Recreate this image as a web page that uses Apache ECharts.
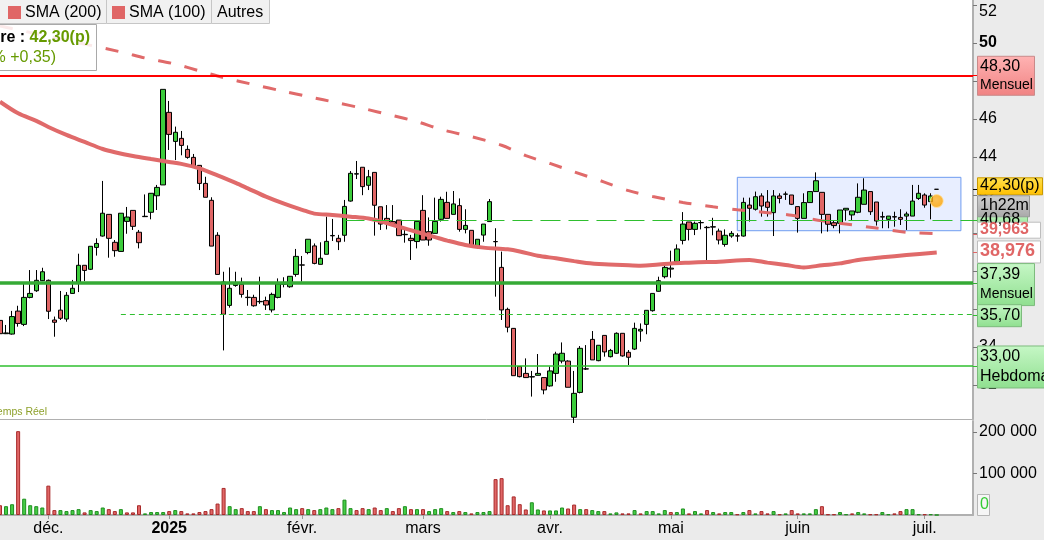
<!DOCTYPE html>
<html><head><meta charset="utf-8">
<script src="https://cdn.jsdelivr.net/npm/echarts@6/dist/echarts.min.js"></script>
<style>
html,body{margin:0;padding:0;background:#fff;overflow:hidden}
#wrap{position:relative;width:1044px;height:540px;font-family:"Liberation Sans",Arial,sans-serif}
#bgR{position:absolute;left:973px;top:0;width:71px;height:540px;background:#ebebeb}
#bgB{position:absolute;left:0;top:516px;width:973px;height:24px;background:#ebebeb}
#c{position:absolute;left:0;top:0;width:1044px;height:540px}
</style>
</head><body><div id="wrap"><div id="bgR"></div><div id="bgB"></div><div id="c"></div></div>
<script>
// ---------- DATA ----------
const tradingDays = {
  '2024-11': [20,21,22,25,26,27,28,29],
  '2024-12': [2,3,4,5,6,9,10,11,12,13,16,17,18,19,20,23,24,27,30,31],
  '2025-01': [2,3,6,7,8,9,10,13,14,15,16,17,20,21,22,23,24,27,28,29,30,31],
  '2025-02': [3,4,5,6,7,10,11,12,13,14,17,18,19,20,21,24,25,26,27,28],
  '2025-03': [3,4,5,6,7,10,11,12,13,14,17,18,19,20,21,24,25,26,27,28,31],
  '2025-04': [1,2,3,4,7,8,9,10,11,14,15,16,17,22,23,24,25,28,29,30],
  '2025-05': [2,5,6,7,8,9,12,13,14,15,16,19,20,21,22,23,26,27,28,29,30],
  '2025-06': [2,3,4,5,6,9,10,11,12,13,16,17,18,19,20,23,24,25,26,27,30],
  '2025-07': [1,2,3]
};
const monthLabels = {'2024-12':'déc.','2025-01':'2025','2025-02':'févr.','2025-03':'mars','2025-04':'avr.','2025-05':'mai','2025-06':'juin','2025-07':'juil.'};
const padSlots = 6;

// [open, close, low, high]
const candles = [
[35.40,34.70,34.72,35.68],[34.70,34.74,34.68,35.16],[34.68,35.60,34.65,35.90],[35.89,35.24,35.07,36.17],[35.19,36.61,35.10,37.35],
[36.61,36.82,36.56,38.05],[36.96,37.51,36.90,38.05],[37.49,37.96,37.47,38.17],[37.51,35.88,35.47,37.55],[35.42,35.30,34.54,35.60],
[35.94,35.51,35.42,36.95],[35.47,36.72,35.33,36.89],[36.82,37.09,36.80,37.53],[37.40,38.30,36.89,38.91],[38.30,38.03,37.47,38.30],
[38.09,39.30,38.05,39.30],[39.24,39.45,38.81,39.72],[39.84,41.04,39.81,42.74],[40.98,39.72,38.70,40.98],[39.51,39.07,38.75,39.63],
[39.03,41.04,39.03,41.04],[40.61,40.84,39.96,41.37],[41.19,40.35,40.16,41.19],[40.04,39.49,39.19,40.16],[40.86,40.88,40.84,42.03],
[41.09,42.09,40.72,42.10],[41.96,42.40,41.21,42.53],[42.53,47.56,42.53,47.56],[46.35,45.19,44.37,46.95],[44.82,45.30,43.84,45.60],
[44.98,44.61,44.09,45.37],[44.40,43.98,43.91,44.61],[43.98,43.45,43.45,44.16],[43.56,42.61,42.26,43.56],[42.61,41.88,41.88,42.96],
[41.72,39.31,39.31,41.88],[39.88,37.82,37.82,40.04],[37.42,35.72,33.82,37.96],[36.19,37.09,36.07,38.19],[37.24,37.33,37.17,37.96],
[37.30,36.77,36.60,37.65],[36.60,36.62,36.17,37.00],[36.61,36.17,36.12,36.75],[36.38,36.40,36.27,37.70],[36.44,36.21,35.95,36.65],
[35.95,36.77,35.82,36.86],[36.61,37.32,36.56,37.61],[37.30,37.35,37.14,37.67],[37.17,37.72,37.12,37.72],[37.82,38.77,37.70,39.16],
[38.31,38.32,37.44,38.79],[38.97,39.67,38.88,39.67],[39.32,38.40,38.35,39.45],[38.35,38.67,38.35,39.51],[38.88,39.56,38.88,40.86],
[39.85,39.87,39.58,40.74],[39.72,39.54,39.10,39.90],[39.88,41.40,39.54,41.74],[41.68,43.14,41.65,43.26],[43.10,43.12,42.84,43.79],
[43.46,42.44,41.99,43.46],[42.51,42.96,42.26,43.32],[43.19,41.46,39.86,43.19],[41.38,40.47,40.16,41.38],[40.77,40.51,40.19,41.47],
[40.60,40.50,40.50,41.47],[40.68,39.86,39.86,40.68],[39.93,39.91,39.49,40.16],[39.72,39.60,38.58,39.90],[39.55,40.61,39.19,40.61],
[41.19,39.63,39.63,41.99],[40.07,39.63,39.33,40.82],[39.98,40.61,39.98,41.86],[40.72,41.77,40.60,41.91],[41.61,40.77,40.77,42.17],
[40.98,41.53,40.98,42.21],[41.44,40.19,40.07,41.82],[40.19,40.40,39.98,41.25],[40.14,39.32,39.28,40.14],[39.23,39.67,39.19,39.67],
[39.89,40.47,39.54,40.47],[40.60,41.65,40.60,41.79],[39.55,39.54,36.65,40.25],[38.19,35.95,35.42,39.02],[35.98,35.04,34.77,36.07],
[34.98,32.49,32.49,35.00],[32.97,32.44,32.40,33.00],[32.61,32.39,32.39,33.40],[32.42,32.44,31.39,32.74],[32.51,32.61,32.50,33.63],
[32.39,31.74,31.51,32.40],[31.95,32.74,31.91,32.97],[32.61,33.63,32.17,33.75],[33.26,33.67,33.14,34.24],[33.26,31.88,31.88,33.30],
[30.30,31.56,30.00,32.74],[31.61,33.93,31.56,34.05],[32.85,32.84,32.79,34.10],[34.40,33.32,33.32,34.84],[33.28,34.09,33.25,34.09],
[34.61,33.74,33.49,34.61],[33.49,33.82,33.45,33.90],[33.67,34.72,33.63,34.77],[34.72,33.53,33.49,34.72],[33.72,33.46,33.05,33.84],
[33.89,34.98,33.84,35.28],[34.84,34.93,34.28,35.24],[35.19,35.93,34.67,35.93],[35.91,36.82,35.86,36.82],[36.93,37.49,36.91,37.70],
[37.70,38.19,37.61,38.40],[38.10,38.15,37.65,39.07],[38.49,39.16,38.40,39.40],[39.61,40.47,39.40,41.10],[40.58,40.19,39.61,40.58],
[40.19,40.51,39.89,40.60],[40.54,40.55,40.19,40.68],[40.30,40.28,38.53,40.37],[40.31,40.33,39.88,40.80],[40.10,39.63,39.40,40.23],
[39.40,39.88,39.28,40.19],[39.84,39.98,39.75,40.10],[39.85,39.84,39.54,39.98],[39.84,41.61,39.81,41.86],[41.47,41.30,40.60,41.86],
[41.25,41.91,41.18,42.18],[41.95,41.42,40.86,42.09],[41.63,41.35,40.86,42.26],[41.07,41.95,39.84,42.26],[41.95,41.82,41.56,42.09],
[42.04,42.05,41.74,42.18],[42.00,41.51,41.47,42.00],[41.39,40.77,40.02,41.39],[40.77,41.60,40.77,42.09],[41.60,42.18,41.60,42.18],
[42.18,42.75,42.18,43.19],[42.14,40.98,39.98,42.14],[40.98,40.46,40.07,40.98],[40.54,40.39,40.25,40.68],[40.51,41.21,39.98,41.21],
[41.21,41.30,40.65,41.30],[40.95,41.16,40.68,41.16],[41.09,41.88,41.04,42.61],[41.51,42.26,41.51,42.88],[42.18,41.12,40.95,42.18],
[41.63,40.63,40.39,41.63],[40.86,40.84,40.25,41.12],[40.72,40.89,40.25,40.89],[40.86,40.84,40.33,41.12],[40.82,40.72,40.42,41.25],
[40.89,41.00,40.16,41.12],[40.89,41.68,40.89,42.53],[41.82,42.09,41.74,42.53],[42.00,41.47,41.33,42.09],[41.65,41.95,40.72,42.09],
[42.30,42.30,42.30,42.30]
];

const volumes = [
23500,21200,25900,201600,39200,23500,21200,18000,70600,11800,
11800,9400,11800,14100,6300,11800,9400,18000,14100,9400,
14100,6300,6300,23500,3900,7100,7100,7100,9400,11800,
9400,3900,3900,7100,9400,14100,27500,65100,21200,14100,
16500,9400,9400,21200,14100,11800,11800,7100,18000,14100,
16500,14100,11800,14100,18000,14100,16500,36900,16500,11800,
16500,14100,18000,11800,16500,9400,16500,21200,14100,14100,
14100,9400,14100,16500,9400,7100,9400,7100,3900,7100,
7100,9400,86300,88600,23500,44700,26000,13300,30600,13300,
11000,11000,11000,18000,15700,25100,14100,14100,11800,9400,
9400,3900,6300,3900,3900,11800,3900,9400,9400,3900,
11800,7100,7100,15700,3900,9400,3900,11800,7100,3900,
7100,7100,1600,7100,11800,3900,9400,3900,9400,1600,
3900,11800,3900,3900,3900,14100,21200,1600,1600,7100,
1600,3900,7100,3900,1600,1600,7100,1600,3900,9400,
14100,14100,1600,1600,1600,0
];

// moving averages: [candle index, value]
const sma100 = [[0,46.91],[3,46.30],[6,45.90],[8,45.58],[11,45.16],[14,44.79],[17,44.42],[19,44.25],[22,44.05],[25,43.89],
[28,43.74],[30,43.64],[33,43.40],[36,43.03],[39,42.64],[41,42.35],[44,41.91],[47,41.54],[50,41.22],[52,41.02],[55,40.95],
[58,40.86],[61,40.76],[63,40.61],[66,40.33],[69,40.05],[72,39.78],[74,39.60],[77,39.37],[80,39.23],[84,39.14],[86,39.03],
[89,38.80],[92,38.67],[95,38.52],[97,38.42],[100,38.35],[103,38.32],[106,38.28],[108,38.31],[111,38.40],[114,38.44],
[117,38.47],[119,38.49],[124,38.58],[127,38.44],[130,38.32],[133,38.19],[136,38.30],[139,38.40],[142,38.58],[146,38.72],
[150,38.84],[155,38.976]];
const sma200 = [[0,50.90],[2,50.76],[20,49.53],[24,49.21],[29,48.89],[33,48.53],[37,48.18],[42,47.81],[47,47.45],[51,47.18],
[56,46.84],[60,46.56],[65,46.18],[69,45.86],[73,45.45],[78,45.07],[83,44.62],[87,44.07],[91,43.66],[95,43.22],[100,42.68],
[104,42.23],[108,41.92],[113,41.61],[118,41.38],[122,41.22],[127,41.07],[131,40.93],[136,40.64],[141,40.43],[145,40.26],
[150,40.04],[155,39.963]];

const levelMonthly = 48.30, levelSupport = 37.39, level3570 = 35.70, levelWeekly = 33.00, level4068 = 40.68;
const rangeBox = {from: 122, to: 159, low: 40.12, high: 42.93};
const alertPoint = [155, 41.68];
const lastPrice = 42.30;
const priceTicks = [32,34,36,38,40,42,44,46,48,50,52];
const volTicks = [100000, 200000];

// ---------- BUILD ----------
const dates = [];
Object.keys(tradingDays).forEach(m => tradingDays[m].forEach(d => dates.push(m + '-' + String(d).padStart(2,'0'))));
const cats = dates.concat(Array.from({length: padSlots}, (_, i) => 'pad' + i));
const monthStart = {};
dates.forEach((d, i) => { const m = d.slice(0,7); if (monthLabels[m] && (i === 0 || dates[i-1].slice(0,7) !== m)) monthStart[i] = monthLabels[m]; });

const GREEN = '#3ccc3c', RED = '#e06666';
const volData = volumes.map((v, i) => {
  const prev = i === 0 ? candles[0][0] : candles[i-1][1];
  const up = candles[i][1] >= prev;
  return {value: v, itemStyle: {color: up ? '#46cc46' : '#e06666', borderColor: up ? '#1f8f1f' : '#a82a2a', borderWidth: 1}};
});

const chart = echarts.init(document.getElementById('c'), null, {renderer: 'canvas'});
const FONT = '"Liberation Sans", Arial, sans-serif';

const option = {
  animation: false,
  backgroundColor: 'transparent',
  textStyle: {fontFamily: FONT},
  grid: [
    {left: 0, right: 71, top: 0, height: 419},
    {left: 0, right: 71, top: 421, height: 94}
  ],
  xAxis: [
    {type: 'category', gridIndex: 0, data: cats, boundaryGap: false,
     axisLine: {show: true, lineStyle: {color: '#b0b0b0'}}, axisTick: {show: false}, axisLabel: {show: false}, splitLine: {show: false}},
    {type: 'category', gridIndex: 1, data: cats, boundaryGap: false,
     axisLine: {show: true, lineStyle: {color: '#b0b0b0', width: 2}},
     axisTick: {show: true, length: 4, interval: (i) => monthStart[i] !== undefined, lineStyle: {color: '#999'}},
     axisLabel: {show: true, interval: (i) => monthStart[i] !== undefined, margin: 6, fontSize: 16, color: '#000', fontFamily: FONT,
       formatter: (v, i) => { const t = monthStart[i]; return t === '2025' ? '{b|2025}' : (t || ''); },
       rich: {b: {fontWeight: 'bold', fontSize: 16, color: '#000', fontFamily: FONT}}},
     splitLine: {show: false}}
  ],
  yAxis: [
    {type: 'value', gridIndex: 0, position: 'right', min: 30.21, max: 52.263, scale: true,
     axisLine: {show: true, lineStyle: {color: '#b0b0b0', width: 2}},
     axisTick: {show: true, length: 4, customValues: priceTicks, lineStyle: {color: '#777'}},
     axisLabel: {show: true, customValues: priceTicks, margin: 6, fontSize: 16, color: '#000', fontFamily: FONT,
       formatter: v => v === 52 ? '{t|52}' : (v === 50 ? '{b|50}' : String(v)),
       rich: {t: {padding: [14,0,0,0], fontSize: 16, color: '#000', fontFamily: FONT}, b: {fontWeight: 'bold', fontSize: 16, color: '#000', fontFamily: FONT}}},
     splitLine: {show: false}},
    {type: 'value', gridIndex: 1, position: 'right', min: 0, max: 226000,
     axisLine: {show: true, lineStyle: {color: '#b0b0b0', width: 2}},
     axisTick: {show: true, length: 4, customValues: volTicks, lineStyle: {color: '#777'}},
     axisLabel: {show: true, customValues: volTicks, margin: 6, fontSize: 16, color: '#000', fontFamily: FONT,
       formatter: v => String(v).replace(/\B(?=(\d{3})+(?!\d))/g, ' ')},
     splitLine: {show: false}}
  ],
  series: [
    {type: 'candlestick', name: 'cours', xAxisIndex: 0, yAxisIndex: 0, data: candles, barWidth: 5, z: 2,
     itemStyle: {color: GREEN, color0: RED, borderColor: '#000', borderColor0: '#000', borderColorDoji: '#000', borderWidth: 1},
     markArea: {silent: true, itemStyle: {color: 'rgba(205,218,255,0.45)', borderColor: '#6f9cf0', borderWidth: 1},
       data: [[{coord: [rangeBox.from, rangeBox.high]}, {coord: [rangeBox.to, rangeBox.low]}]]}
    },
    {type: 'line', name: 'SMA (200)', xAxisIndex: 0, yAxisIndex: 0, data: sma200, showSymbol: false, connectNulls: true, smooth: 0.3, z: 4, silent: true,
     lineStyle: {color: '#e06a6a', width: 3, type: [13, 14]}},
    {type: 'line', name: 'SMA (100)', xAxisIndex: 0, yAxisIndex: 0, data: sma100, showSymbol: false, connectNulls: true, smooth: 0.3, z: 4, silent: true,
     lineStyle: {color: '#e06a6a', width: 4}},
    {type: 'line', name: 'niveaux', xAxisIndex: 0, yAxisIndex: 0, data: [], z: 5, silent: true,
     markLine: {silent: true, symbol: ['none', 'none'], label: {show: false}, animation: false,
       data: [
         {yAxis: levelMonthly, lineStyle: {color: '#ff0000', width: 2, type: 'solid'}},
         {yAxis: levelSupport, lineStyle: {color: '#35aa35', width: 3.5, type: 'solid'}},
         [{coord: [20, level3570], lineStyle: {color: '#2fbf2f', width: 1, type: [5, 4]}}, {coord: [cats.length - 1, level3570]}],
         {yAxis: levelWeekly, lineStyle: {color: '#2fbf2f', width: 1.5, type: 'solid'}},
         [{coord: [57, level4068], lineStyle: {color: '#2fbf2f', width: 1.2, type: [20, 8]}}, {coord: [cats.length - 1, level4068]}]
       ]}},
    {type: 'scatter', name: 'alerte', xAxisIndex: 0, yAxisIndex: 0, data: [alertPoint], symbolSize: 13, z: 6, silent: true,
     itemStyle: {color: new echarts.graphic.RadialGradient(0.45, 0.4, 0.6, [{offset: 0, color: '#ffb52e'}, {offset: 0.8, color: '#ffa500'}, {offset: 1, color: '#ffd27a'}]),
       borderColor: '#ffe0a0', borderWidth: 1}},
    {type: 'bar', name: 'volume', xAxisIndex: 1, yAxisIndex: 1, data: volData, barWidth: 4, z: 2}
  ]
};
chart.setOption(option);

// ---------- ANNOTATIONS (positioned through the axis scale) ----------
const py = v => chart.convertToPixel({yAxisIndex: 0}, v);
const lg = (a, b) => new echarts.graphic.LinearGradient(0, 0, 0, 1, [{offset: 0, color: a}, {offset: 1, color: b}]);
const greenFill = () => lg('#c6f7c6', '#8fdf8f');
const X0 = 977;
const ZB = 100;

function box(x, y, w, h, fill, stroke, texts) {
  const out = [{type: 'rect', z: ZB, shape: {x: x + 0.5, y: y + 0.5, width: w, height: h}, style: {fill: fill, stroke: stroke, lineWidth: 1}}];
  texts.forEach(t => out.push({type: 'text', z: ZB + 1, x: x + 3, y: t.y, style: {text: t.s, fill: t.c || '#000', font: (t.w || 'normal') + ' ' + (t.f || 16) + 'px ' + FONT, textVerticalAlign: 'middle'}}));
  return out;
}

function buildGraphics() {
  let g = [];
  const y48 = py(levelMonthly), y42 = py(lastPrice), y37 = py(levelSupport), y35 = py(level3570), y33 = py(levelWeekly);
  const y4068 = py(level4068);
  const ySma200 = py(sma200[sma200.length - 1][1]), ySma100 = py(sma100[sma100.length - 1][1]);
  // axis marks next to labels
  [[y48, '#ff0000'], [y42, '#000'], [y4068, '#2fbf2f'], [ySma200, '#e06666'], [ySma100, '#e06666'], [y37, '#35aa35'], [y35, '#2fbf2f'], [y33, '#2fbf2f']]
    .forEach(m => g.push({type: 'line', z: ZB, shape: {x1: 973, y1: Math.round(m[0]) + 0.5, x2: 977, y2: Math.round(m[0]) + 0.5}, style: {stroke: m[1], lineWidth: 1}}));
  g = g.concat(box(X0, y48 - 19.5, 57, 39, lg('#ffb3b3', '#f08282'), '#c98a8a', [{s: '48,30', y: y48 - 9}, {s: 'Mensuel', y: y48 + 10, f: 14}]));
  g = g.concat(box(X0, y4068 - 9, 50, 18, greenFill(), '#7dbb7d', [{s: '40,68', y: y4068}]));
  g = g.concat(box(X0, y42 - 12, 65, 17, lg('#ffe14d', '#ffbf00'), '#c99a00', [{s: '42,30(p)', y: y42 - 3.5}]));
  g = g.concat(box(X0, y42 + 6, 52, 21, lg('#cfcfcf', '#a9a9a9'), '#999', [{s: '1h22m', y: y42 + 16.5}]));
  g = g.concat(box(X0, ySma200 - 12, 63, 16, '#fff', '#bdbdbd', [{s: '39,963', y: ySma200 - 4, w: 'bold', c: '#e06666'}]));
  g = g.concat(box(X0, ySma100 - 12, 63, 22, '#fff', '#bdbdbd', [{s: '38,976', y: ySma100 - 1, w: 'bold', c: '#e06666', f: 18}]));
  g = g.concat(box(X0, y37 - 19.5, 57, 42, greenFill(), '#7dbb7d', [{s: '37,39', y: y37 - 8}, {s: 'Mensuel', y: y37 + 12, f: 14}]));
  g = g.concat(box(X0, y35 - 10.5, 44, 22, greenFill(), '#7dbb7d', [{s: '35,70', y: y35 + 0.5}]));
  g = g.concat(box(X0, y33 - 20.5, 80, 42, greenFill(), '#7dbb7d', [{s: '33,00', y: y33 - 9}, {s: 'Hebdomadaire', y: y33 + 11}]));
  // current volume label
  g = g.concat(box(X0, 494, 12, 21, '#f6f6f6', '#b5b5b5', [{s: '0', y: 505, c: '#33cc33'}]));

  // legend tabs
  const tab = (x, w) => ({type: 'rect', z: ZB, shape: {x: x + 0.5, y: -0.5, width: w, height: 24}, style: {fill: '#f1f1f1', stroke: '#c6c6c6', lineWidth: 1}});
  g.push(tab(-5, 111), tab(106, 105), tab(211, 58));
  g.push({type: 'rect', z: ZB + 1, shape: {x: 8, y: 6, width: 13, height: 13}, style: {fill: '#e06666'}});
  g.push({type: 'rect', z: ZB + 1, shape: {x: 112, y: 6, width: 13, height: 13}, style: {fill: '#e06666'}});
  const lt = (x, s) => ({type: 'text', z: ZB + 1, x: x, y: 12.5, style: {text: s, fill: '#000', font: '16px ' + FONT, textVerticalAlign: 'middle'}});
  g.push(lt(25, 'SMA (200)'), lt(129, 'SMA (100)'), lt(217, 'Autres'));

  // price info box
  g.push({type: 'rect', z: ZB, shape: {x: -2, y: 24.5, width: 98.5, height: 46}, style: {fill: 'rgba(255,255,255,0.86)', stroke: '#a9a9a9', lineWidth: 1}});
  g.push({type: 'text', z: ZB + 1, x: 90, y: 38, style: {text: '{k|Dernière : }{v|42,30(p)}', textAlign: 'right', textVerticalAlign: 'middle',
    rich: {k: {font: 'bold 16px ' + FONT, fill: '#000'}, v: {font: 'bold 16px ' + FONT, fill: '#669a00'}}}});
  g.push({type: 'text', z: ZB + 1, x: 56, y: 58, style: {text: '(+0,83% +0,35)', fill: '#669a00', font: '16px ' + FONT, textAlign: 'right', textVerticalAlign: 'middle'}});
  // real-time tag
  g.push({type: 'text', z: ZB + 1, x: 47, y: 412.5, style: {text: 'Temps Réel', fill: '#8ea12c', font: '10.5px ' + FONT, textAlign: 'right', textVerticalAlign: 'middle'}});
  return g;
}
chart.setOption({graphic: {elements: buildGraphics()}});
</script>
</body></html>
